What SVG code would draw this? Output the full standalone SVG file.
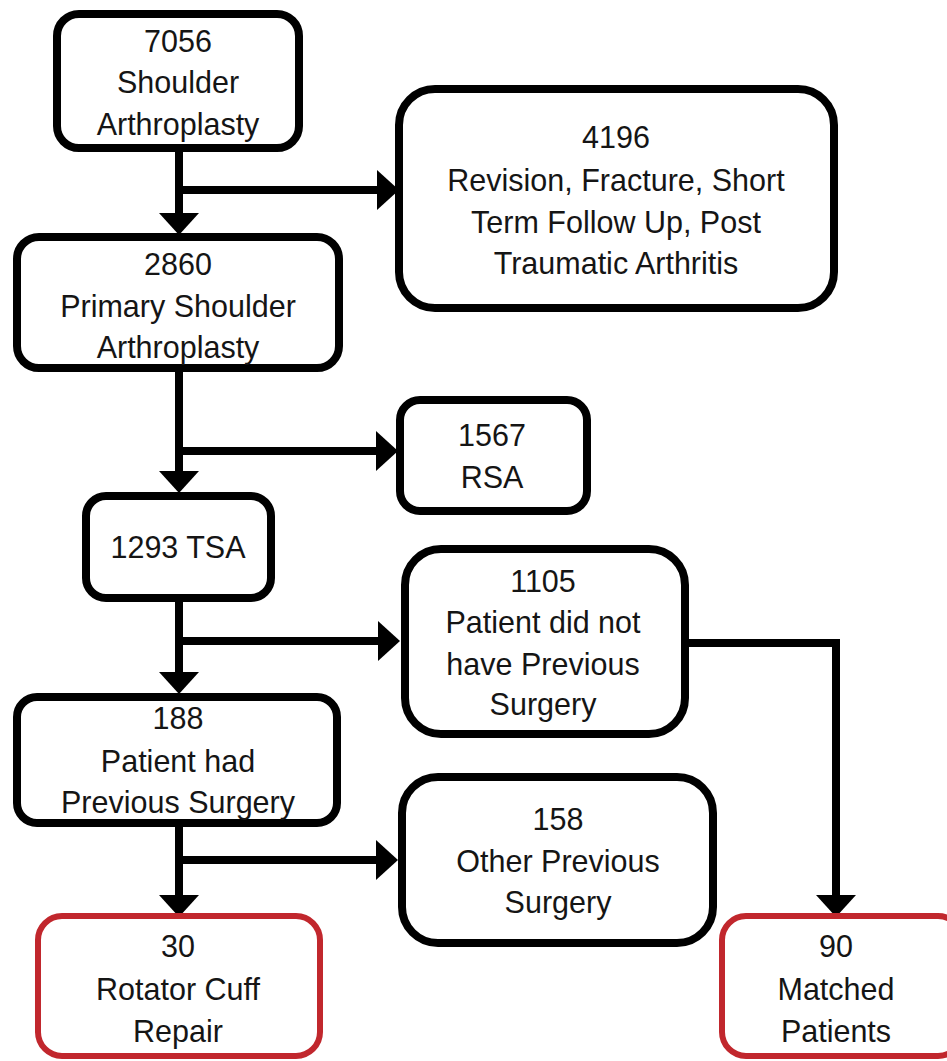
<svg xmlns="http://www.w3.org/2000/svg" width="947" height="1061" viewBox="0 0 947 1061">
<style>
.box{fill:#fff;stroke:#000;stroke-width:8}
.red{fill:#fff;stroke:#c1272d;stroke-width:6}
.t{font-family:"Liberation Sans",Arial,sans-serif;font-size:30.5px;fill:#151515;text-anchor:middle}
.c{fill:none;stroke:#000;stroke-width:8}
</style>
<defs>
<marker id="ah" markerUnits="userSpaceOnUse" markerWidth="22" markerHeight="40" viewBox="0 0 22 40" refX="0" refY="20" orient="auto">
<path d="M0,0 L22,20 L0,40 Z" fill="#000"/>
</marker>
</defs>
<rect width="947" height="1061" fill="#fff"/>
<g id="connectors">
<path class="c" d="M179,152 V213" marker-end="url(#ah)"/>
<path class="c" d="M179,190 H377" marker-end="url(#ah)"/>
<path class="c" d="M179,372 V471" marker-end="url(#ah)"/>
<path class="c" d="M179,451 H376" marker-end="url(#ah)"/>
<path class="c" d="M179,602 V672" marker-end="url(#ah)"/>
<path class="c" d="M179,641 H378" marker-end="url(#ah)"/>
<path class="c" d="M179,827 V895" marker-end="url(#ah)"/>
<path class="c" d="M179,860 H376" marker-end="url(#ah)"/>
<path class="c" d="M688,643 H836 V895" marker-end="url(#ah)"/>
</g>
<g id="n7056">
<rect class="box" x="57" y="14" width="242" height="134" rx="22"/>
<text class="t" x="178" y="52">7056</text>
<text class="t" x="178" y="93">Shoulder</text>
<text class="t" x="178" y="135">Arthroplasty</text>
</g>
<g id="n4196">
<rect class="box" x="399" y="89" width="435" height="219" rx="36"/>
<text class="t" x="616" y="148">4196</text>
<text class="t" x="616" y="191">Revision, Fracture, Short</text>
<text class="t" x="616" y="233">Term Follow Up, Post</text>
<text class="t" x="616" y="274">Traumatic Arthritis</text>
</g>
<g id="n2860">
<rect class="box" x="17" y="237" width="322" height="131" rx="22"/>
<text class="t" x="178" y="275">2860</text>
<text class="t" x="178" y="317">Primary Shoulder</text>
<text class="t" x="178" y="358">Arthroplasty</text>
</g>
<g id="n1567">
<rect class="box" x="400" y="400" width="187" height="111" rx="20"/>
<text class="t" x="492" y="446">1567</text>
<text class="t" x="492" y="488">RSA</text>
</g>
<g id="n1293">
<rect class="box" x="86" y="496" width="185" height="102" rx="20"/>
<text class="t" x="178" y="558">1293 TSA</text>
</g>
<g id="n1105">
<rect class="box" x="405" y="549" width="280" height="185" rx="36"/>
<text class="t" x="543" y="592">1105</text>
<text class="t" x="543" y="633">Patient did not</text>
<text class="t" x="543" y="675">have Previous</text>
<text class="t" x="543" y="715">Surgery</text>
</g>
<g id="n188">
<rect class="box" x="17" y="697" width="320" height="126" rx="20"/>
<text class="t" x="178" y="729">188</text>
<text class="t" x="178" y="772">Patient had</text>
<text class="t" x="178" y="813">Previous Surgery</text>
</g>
<g id="n158">
<rect class="box" x="402" y="777" width="311" height="166" rx="36"/>
<text class="t" x="558" y="830">158</text>
<text class="t" x="558" y="872">Other Previous</text>
<text class="t" x="558" y="913">Surgery</text>
</g>
<g id="n30">
<rect class="red" x="38" y="916" width="282" height="140" rx="24"/>
<text class="t" x="178" y="957">30</text>
<text class="t" x="178" y="1000">Rotator Cuff</text>
<text class="t" x="178" y="1042">Repair</text>
</g>
<g id="n90">
<rect class="red" x="722" y="916" width="240" height="140" rx="24"/>
<text class="t" x="836" y="957">90</text>
<text class="t" x="836" y="1000">Matched</text>
<text class="t" x="836" y="1042">Patients</text>
</g>
</svg>
